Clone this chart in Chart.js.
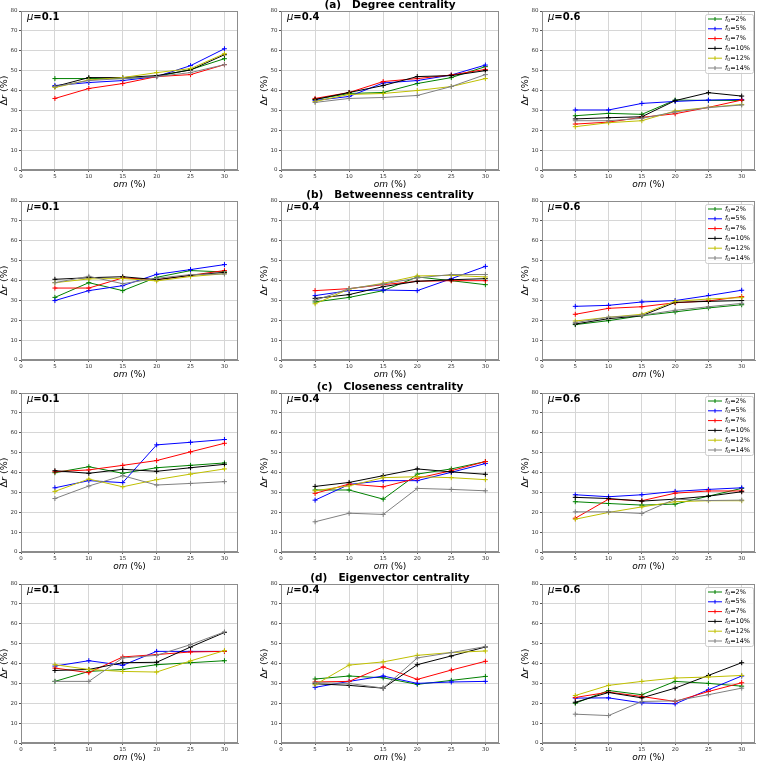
<!DOCTYPE html>
<html>
<head>
<meta charset="utf-8">
<script src="https://cdn.jsdelivr.net/npm/chart.js@4.4.1/dist/chart.umd.min.js"></script>
<style>
  html, body { margin: 0; padding: 0; background: #fff; overflow: hidden; }
  #wrap { position: relative; width: 760px; height: 761px; }
  #wrap canvas { position: absolute; }
</style>
</head>
<body>
<div id="wrap"></div>
<script>
// x categories and legend labels
const omValues = [5, 10, 15, 20, 25, 30];
const f0Labels = ["2%", "5%", "7%", "10%", "12%", "14%"];
const muValues = ["0.1", "0.4", "0.6"];
const centralityTitles = [
    "(a)   Degree centrality",
    "(b)   Betweenness centrality",
    "(c)   Closeness centrality",
    "(d)   Eigenvector centrality"
];

// each panel: one row per f0 (2, 5, 7, 10, 12, 14 %), values of Δr (%) at om = 5..30
const degreeMu01 = [
    [46, 46, 46, 47, 50.5, 56],
    [42.5, 44, 45, 47, 52.5, 61],
    [36, 41, 43.5, 47, 48, 53],
    [42, 46.5, 46.5, 47.5, 50.3, 58],
    [41.5, 45.3, 46.5, 49, 51, 58.5],
    [42, 45, 46, 47, 49, 53]
];
const degreeMu04 = [
    [35.5, 38.5, 39, 43.5, 46.5, 52],
    [35, 37, 43.8, 45, 47.8, 52.8],
    [36, 39, 44.5, 46, 47.8, 50.6],
    [35.5, 39, 42.5, 47, 47.5, 50],
    [34.5, 38, 38.5, 40, 42, 46],
    [34, 36, 36.5, 37.5, 42, 48]
];
const degreeMu06 = [
    [27.3, 28.5, 28, 35.2, 35, 35],
    [30.2, 30.2, 33.5, 34.5, 35.2, 35.5],
    [23.1, 24.1, 26.5, 28.3, 31.5, 35.2],
    [25.7, 26.3, 26.8, 34.9, 38.9, 37.2],
    [21.8, 23.8, 24.8, 29.7, 31.5, 33],
    [24.8, 24.8, 26, 29.2, 31.4, 32.7]
];
const betweennessMu01 = [
    [31.5, 38.9, 34.9, 41.6, 45, 44.3],
    [29.9, 34.9, 37.4, 43.1, 45.5, 48],
    [36.2, 36.2, 41.3, 40.4, 42.6, 45],
    [40.6, 41.4, 41.9, 40.4, 42.6, 44.1],
    [38.9, 40.8, 41, 39.8, 42, 43.4],
    [38.9, 42.1, 38.4, 41.1, 43, 43.3]
];
const betweennessMu04 = [
    [29.2, 31.5, 34.9, 41.8, 39.9, 37.9],
    [32.4, 34.9, 35.2, 34.9, 40.9, 47.1],
    [34.9, 35.9, 37.9, 39.6, 39.9, 39.9],
    [31, 32.9, 36.9, 39.6, 40.4, 40.9],
    [28.3, 35.7, 38.6, 42.3, 42.6, 41.8],
    [30, 35.9, 38.2, 41.3, 43, 43]
];
const betweennessMu06 = [
    [17.8, 19.8, 22.3, 24.2, 26.2, 27.8],
    [27, 27.5, 29.2, 29.9, 32.4, 35.1],
    [23, 26, 26.8, 28.8, 29.7, 31.9],
    [18.1, 20.8, 22.3, 29, 29.5, 29.9],
    [19.6, 21.5, 23, 29.5, 30.7, 31.4],
    [18.8, 21.5, 22.5, 25, 26.8, 28.5]
];
const closenessMu01 = [
    [39.9, 42.9, 39.6, 42.4, 43.6, 44.8],
    [32.3, 35.9, 34.9, 53.9, 55.2, 56.6],
    [40.4, 41.3, 43.6, 46, 50.4, 54.7],
    [40.9, 39.6, 41.6, 40.6, 42.4, 44.1],
    [30.5, 36.7, 32.8, 36.4, 39.2, 41.8],
    [26.9, 33.2, 38.4, 33.7, 34.5, 35.4]
];
const closenessMu04 = [
    [31.2, 31.2, 26.6, 39.2, 41.8, 45.5],
    [26.1, 34, 35.9, 35.9, 40.1, 44.5],
    [29.5, 34.2, 32.8, 37.1, 40.9, 45.5],
    [33, 35, 38.4, 41.8, 40.3, 39.1],
    [30.8, 33.3, 37.4, 37.9, 37.4, 36.4],
    [15.2, 19.5, 18.9, 32, 31.5, 30.8]
];
const closenessMu06 = [
    [25.3, 24.4, 23.6, 24.1, 28.1, 32],
    [28.8, 27.8, 28.8, 30.5, 31.5, 32.3],
    [17, 26.6, 25.8, 29.6, 30.7, 30.7],
    [27.5, 26.9, 25.6, 26.6, 28.1, 30.3],
    [16.5, 19.9, 22.7, 25.3, 25.8, 25.8],
    [20.2, 20.2, 19.4, 26.6, 25.9, 26.1]
];
const eigenvectorMu01 = [
    [31, 36, 37, 39.4, 40.4, 41.4],
    [38.7, 41.4, 39.1, 46.1, 46.1, 46.1],
    [37.7, 35.4, 43.3, 44.5, 45.8, 46.1],
    [36.5, 37, 40.4, 40.6, 48.3, 55.6],
    [39.4, 37, 36, 35.7, 41.3, 46.5],
    [31, 31, 42.8, 44.1, 49.5, 55.9]
];
const eigenvectorMu04 = [
    [32.2, 33.7, 32.8, 29.5, 31.5, 33.5],
    [28, 31, 33.7, 30, 30.7, 31],
    [30.7, 31, 38.3, 32, 36.7, 41.1],
    [29.8, 29, 27.6, 39.4, 43.8, 48.3],
    [29.3, 39.2, 40.8, 44.1, 45.5, 46.3],
    [30.3, 30, 27.6, 42.8, 45.5, 48.5]
];
const eigenvectorMu06 = [
    [20, 26.4, 24.3, 31, 30, 28.6],
    [22.6, 22.7, 20.2, 19.7, 26.8, 33.7],
    [22.9, 25.6, 23.4, 20.9, 25.9, 30.3],
    [20.5, 25.4, 22.7, 27.6, 34, 40.4],
    [23.9, 29, 31, 32.7, 33.2, 34],
    [14.5, 13.8, 20.9, 21.2, 24.3, 27.6]
];

const panelRows = [
    [degreeMu01, degreeMu04, degreeMu06],
    [betweennessMu01, betweennessMu04, betweennessMu06],
    [closenessMu01, closenessMu04, closenessMu06],
    [eigenvectorMu01, eigenvectorMu04, eigenvectorMu06]
];

const seriesColors = ["#008000", "#0000ff", "#ff0000", "#000000", "#bfbf00", "#808080"];
const FONT = "DejaVu Sans";

// placement of every panel (canvas box), plot area = left+21 .. width-padRight
const colLeft = [0, 260, 521];
const colWidth = [250, 250, 239];
const colPadRight = [12, 11, 1];
const rowTop = [0, 190, 382, 573];
const CANVAS_H = 192;

// writes a row of text pieces with their own fonts
function drawParts(ctx, parts, x, y, align) {
    let total = 0;
    parts.forEach(p => { ctx.font = p.font; total += ctx.measureText(p.text).width; });
    let cx = align === "center" ? x - total / 2 : x;
    ctx.textBaseline = "middle";
    ctx.textAlign = "left";
    parts.forEach(p => {
        ctx.font = p.font;
        ctx.fillText(p.text, cx, y + (p.dy || 0));
        cx += ctx.measureText(p.text).width;
    });
}

const panelDecor = {
    id: "panelDecor",
    afterDraw(chart, args, opts) {
        const ctx = chart.ctx;
        const a = chart.chartArea;
        ctx.save();

        // axes frame
        ctx.strokeStyle = "#8c8c8c";
        ctx.lineWidth = 1;
        ctx.strokeRect(Math.round(a.left) + 0.5, Math.round(a.top) + 0.5,
            Math.round(a.right - a.left) - 1, Math.round(a.bottom - a.top) - 1);

        ctx.fillStyle = "#000";
        // mu label
        drawParts(ctx, [
            { text: "\u03bc", font: "italic 10px " + FONT },
            { text: "=" + opts.mu, font: "bold 10px " + FONT }
        ], a.left + 6, a.top + 6.5, "left");

        // axis titles
        drawParts(ctx, [
            { text: "om", font: "italic 9px " + FONT },
            { text: " (%)", font: "9px " + FONT }
        ], (a.left + a.right) / 2, a.bottom + 14.5, "center");

        ctx.save();
        ctx.translate(a.left - 16.5, (a.top + a.bottom) / 2);
        ctx.rotate(-Math.PI / 2);
        drawParts(ctx, [
            { text: "\u0394", font: "9.5px " + FONT },
            { text: "r", font: "italic 9.5px " + FONT },
            { text: " (%)", font: "9.5px " + FONT }
        ], 0, 0, "center");
        ctx.restore();

        // row title
        if (opts.title) {
            drawParts(ctx, [{ text: opts.title, font: "bold 10.5px " + FONT }],
                (a.left + a.right) / 2, a.top - 5.5, "center");
        }

        // legend
        if (opts.legend) {
            const w = 48, h = 59;
            const bx = a.right - 2 - w, by = a.top + 3;
            ctx.fillStyle = "rgba(255,255,255,0.85)";
            ctx.strokeStyle = "#cccccc";
            ctx.beginPath();
            ctx.roundRect(bx + 0.5, by + 0.5, w, h, 2);
            ctx.fill();
            ctx.stroke();
            chart.data.datasets.forEach((ds, i) => {
                const ly = by + 5 + i * 9.8;
                ctx.strokeStyle = ds.borderColor;
                ctx.lineWidth = 1;
                ctx.beginPath();
                ctx.moveTo(bx + 3, ly);
                ctx.lineTo(bx + 17, ly);
                ctx.moveTo(bx + 10, ly - 2);
                ctx.lineTo(bx + 10, ly + 2);
                ctx.stroke();
                ctx.fillStyle = "#000";
                drawParts(ctx, [
                    { text: "f", font: "italic 6.5px " + FONT },
                    { text: "0", font: "4.5px " + FONT, dy: 1.5 },
                    { text: "=" + f0Labels[i], font: "6.5px " + FONT }
                ], bx + 20, ly, "left");
            });
        }
        ctx.restore();
    }
};
Chart.register(panelDecor);

function makeDatasets(series) {
    return series.map((vals, i) => ({
        label: "f0=" + f0Labels[i],
        data: omValues.map((om, j) => ({ x: om, y: vals[j] })),
        borderColor: seriesColors[i],
        backgroundColor: seriesColors[i],
        borderWidth: 1,
        pointStyle: "cross",
        pointRadius: 2.5,
        pointBorderWidth: 1,
        tension: 0,
        order: 5 - i
    }));
}

function axisStyle() {
    return {
        grid: { color: "#d6d6d6", lineWidth: 1, tickColor: "#555", tickLength: 2 },
        border: { color: "#8c8c8c" },
        ticks: { font: { family: FONT, size: 5.5 }, color: "#333", padding: 1.5 }
    };
}

const wrap = document.getElementById("wrap");
panelRows.forEach((row, r) => {
    row.forEach((series, c) => {
        const canvas = document.createElement("canvas");
        canvas.width = colWidth[c];
        canvas.height = CANVAS_H;
        canvas.style.left = colLeft[c] + "px";
        canvas.style.top = rowTop[r] + "px";
        canvas.style.width = colWidth[c] + "px";
        canvas.style.height = CANVAS_H + "px";
        wrap.appendChild(canvas);

        const xAxis = axisStyle();
        const yAxis = axisStyle();

        new Chart(canvas, {
            type: "line",
            data: { datasets: makeDatasets(series) },
            options: {
                responsive: false,
                animation: false,
                devicePixelRatio: 1,
                layout: { padding: { top: 11, right: colPadRight[c], left: 0, bottom: 0 } },
                plugins: {
                    legend: { display: false },
                    tooltip: { enabled: false },
                    panelDecor: {
                        mu: muValues[c],
                        title: c === 1 ? centralityTitles[r] : null,
                        legend: c === 2
                    }
                },
                scales: {
                    x: Object.assign(xAxis, {
                        type: "linear",
                        min: 0,
                        max: 32,
                        ticks: Object.assign(xAxis.ticks, { stepSize: 5, maxRotation: 0 }),
                        afterBuildTicks: s => { s.ticks = s.ticks.filter(t => t.value <= 30 && t.value % 5 === 0); },
                        afterFit: s => { s.height = 22; }
                    }),
                    y: Object.assign(yAxis, {
                        min: 0,
                        max: 80,
                        ticks: Object.assign(yAxis.ticks, { stepSize: 10 }),
                        afterFit: s => { s.width = 21; }
                    })
                }
            }
        });
    });
});
</script>
</body>
</html>
